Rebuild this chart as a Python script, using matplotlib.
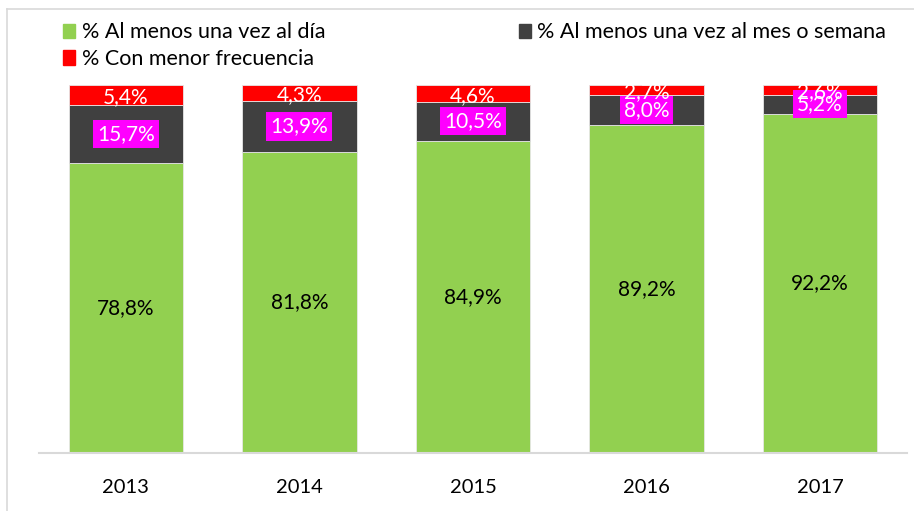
import matplotlib.pyplot as plt
from matplotlib.lines import Line2D
from matplotlib.patches import Patch
import numpy as np

plt.rcParams['font.family'] = ['Lato', 'DejaVu Sans']

# data
years = ['2013', '2014', '2015', '2016', '2017']
diario = [78.8, 81.8, 84.9, 89.2, 92.2]
mes_semana = [15.7, 13.9, 10.5, 8.0, 5.2]
menor_frec = [5.4, 4.3, 4.6, 2.7, 2.6]

c_green = '#92D050'
c_dark = '#404040'
c_red = '#FF0000'
c_mag = '#FF00FF'

fig = plt.figure(figsize=(9.14, 5.11), dpi=100)
ax = fig.add_axes([0.0427, 0.1135, 0.9495, 0.7202])

x = np.arange(len(years))
w = 0.66
d = np.array(diario)
m = np.array(mes_semana)
r = np.array(menor_frec)

ax.bar(x, d, w, color=c_green, edgecolor='#E6E6E6', linewidth=0.6)
ax.bar(x, m, w, bottom=d, color=c_dark, edgecolor='#E6E6E6', linewidth=0.6)
ax.bar(x, r, w, bottom=d + m, color=c_red, edgecolor='#E6E6E6', linewidth=0.6)

def fmt(v):
    return f'{v:.1f}%'.replace('.', ',')

fs = 15
for i in range(len(years)):
    ax.text(x[i], d[i] / 2, fmt(d[i]), ha='center', va='center', fontsize=fs, color='black')
    ax.text(x[i], d[i] + m[i] / 2, fmt(m[i]), ha='center', va='center', fontsize=fs, color='white',
            zorder=5, bbox=dict(boxstyle='square,pad=0.2', facecolor=c_mag, edgecolor='none'))
    ax.text(x[i], d[i] + m[i] + r[i] / 2 - 0.6, fmt(r[i]), ha='center', va='center', fontsize=fs,
            color='white', zorder=6, clip_on=True)

ax.set_xlim(-0.5, len(years) - 0.5)
ax.set_ylim(0, 100)
ax.set_xticks(x)
ax.set_xticklabels(years, fontsize=14.5)
ax.tick_params(axis='x', length=0, pad=19)
ax.set_yticks([])
for s in ['top', 'right', 'left']:
    ax.spines[s].set_visible(False)
ax.spines['bottom'].set_color('#D9D9D9')
ax.spines['bottom'].set_linewidth(1.5)

# legend
handles = [Patch(color=c_green, label='% Al menos una vez al día'),
           Patch(color=c_red, label='% Con menor frecuencia'),
           Patch(color=c_dark, label='% Al menos una vez al mes o semana')]
fig.legend(handles=handles, ncol=2, loc='upper left', bbox_to_anchor=(0.048, 0.994),
           frameon=False, fontsize=15.5, handlelength=0.55, handleheight=0.65, handletextpad=0.3,
           columnspacing=9.0, labelspacing=0.3)

# outer chart border
fig.add_artist(Line2D([0.008, 0.008], [0.0, 0.982], color='#D9D9D9', lw=1.2))
fig.add_artist(Line2D([0.008, 1.0], [0.982, 0.982], color='#D9D9D9', lw=1.2))

fig.savefig('out.png', dpi=100, facecolor='white')
